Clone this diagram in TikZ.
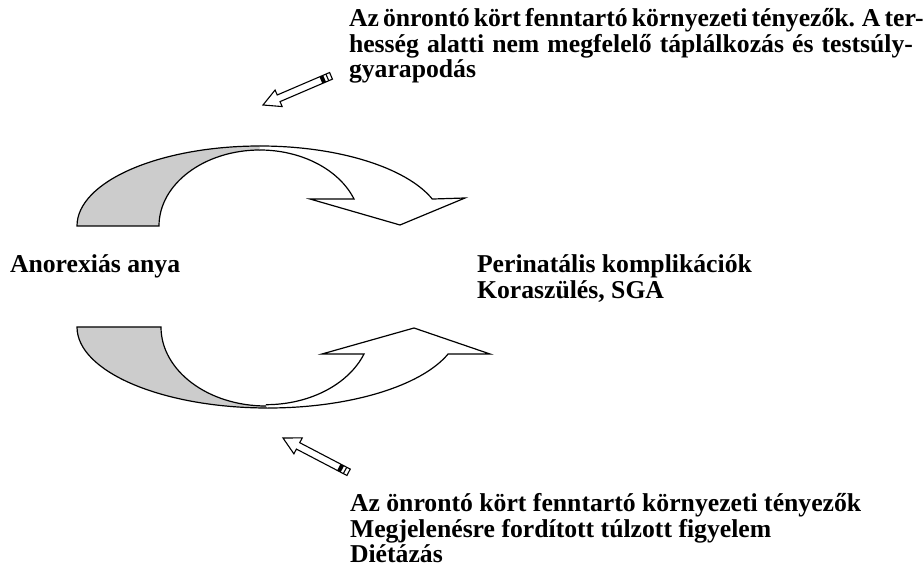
\documentclass[tikz,border=0pt]{standalone}
\usepackage{fontspec}
\setmainfont{Liberation Serif}
\begin{document}
\begin{tikzpicture}[x=1pt,y=1pt,
  lbl/.style={anchor=base west,inner sep=0pt,outer sep=0pt,font=\bfseries\fontsize{25.7}{25.5}\selectfont},
  band/.style={draw=black,line width=1.2pt,line join=miter},
  backfill/.style={fill=black!20},
  frontfill/.style={fill=white},
  pencil/.pic={
    \draw[line width=1.1pt,fill=white,line join=miter]
      (0,0) -- (17,9) -- (17,3.6) -- (74,3.6) -- (74,-3.6) -- (17,-3.6) -- (17,-9) -- cycle;
    \fill[black] (63,-3.6) rectangle (67,3.6);
    \draw[line width=1.1pt] (70,-3.6) -- (70,3.6);
  }]
\useasboundingbox (0,0) rectangle (923,576);

% upper curved arrow
\path[backfill] (77,350) arc[start angle=180,end angle=90,x radius=183,y radius=80]
  -- (260,426) arc[start angle=90,end angle=180,x radius=101,y radius=76] -- cycle;
\draw[band] (260,430) arc[start angle=90,end angle=180,x radius=183,y radius=80]
  -- (159,350) arc[start angle=180,end angle=90,x radius=101,y radius=76];
\path[frontfill] (260,430) arc[start angle=90,end angle=19.7,x radius=183,y radius=80]
  -- (465,378) -- (400,351) -- (310,377) -- (354,377)
  arc[start angle=20.8,end angle=90,x radius=101,y radius=76] -- cycle;
\draw[band] (260,430) arc[start angle=90,end angle=19.7,x radius=183,y radius=80]
  -- (465,378) -- (400,351) -- (310,377) -- (354,377)
  arc[start angle=20.8,end angle=90,x radius=101,y radius=76];

% lower curved arrow
\path[backfill] (77,249) arc[start angle=180,end angle=270,x radius=191,y radius=81]
  -- (266,170) arc[start angle=270,end angle=180,x radius=105,y radius=79] -- cycle;
\draw[band] (268,168) arc[start angle=270,end angle=180,x radius=191,y radius=81]
  -- (161,249) arc[start angle=180,end angle=270,x radius=105,y radius=79];
\path[frontfill] (268,168) arc[start angle=270,end angle=340.5,x radius=191,y radius=81]
  -- (490,222) -- (414,248) -- (322,222) -- (364,222)
  arc[start angle=339,end angle=270,x radius=105,y radius=79] -- cycle;
\draw[band] (268,168) arc[start angle=270,end angle=340.5,x radius=191,y radius=81]
  -- (490,222) -- (414,248) -- (322,222) -- (364,222)
  arc[start angle=339,end angle=270,x radius=105,y radius=79];

% small arrows
\pic (pa) at (263,471) [rotate=23.2] {pencil};
\pic (pb) at (283,138) [rotate=-27.6] {pencil};

% texts
\node[lbl] (top) at (349,549.3) {\parbox[t]{564pt}{\lineskiplimit=-100pt
  \spaceskip=0.19em plus 1em minus 0.03em
  \makebox[564pt][s]{Az önrontó kört fenntartó környezeti tényezők. A ter-}\\
  \makebox[564pt][s]{hesség alatti nem megfelelő táplálkozás és testsúly-}\\
  gyarapodás}};
\node[lbl] (mother) at (10,303.3) {Anorexiás anya};
\node[lbl] (peri) at (477,303.3) {\parbox[t]{400pt}{\lineskiplimit=-100pt
  Perinatális komplikációk\\Koraszülés, SGA}};
\node[lbl] (bottom) at (350,64.3) {\parbox[t]{560pt}{\lineskiplimit=-100pt
  Az önrontó kört fenntartó környezeti tényezők\\
  Megjelenésre fordított túlzott figyelem\\
  Diétázás}};
\end{tikzpicture}
\end{document}
